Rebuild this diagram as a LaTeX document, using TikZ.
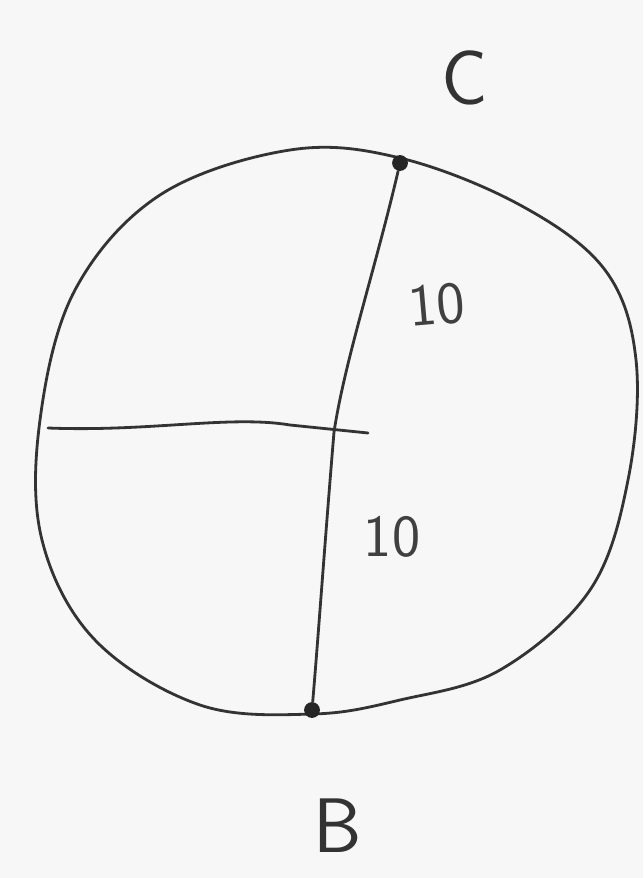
\documentclass[tikz,border=0pt]{standalone}
\usepackage{fontspec}
\setmainfont{DejaVu Sans}
\begin{document}
\begin{tikzpicture}[x=0.02cm,y=-0.02cm,
  pen/.style={draw=black!80, line width=1.6pt, line cap=round, line join=round},
  lbl/.style={text=black!80, inner sep=0pt, font=\fontsize{44}{48}\selectfont\sffamily},
  num/.style={text=black!75, inner sep=0pt, font=\fontsize{34}{36}\selectfont\sffamily},
  dotmark/.style={circle, fill=black!85, inner sep=0pt, minimum size=9pt}]
\fill[white!94!gray] (0,0) rectangle (643,878);
\useasboundingbox (0,0) rectangle (643,878);
% outline
\draw[pen] plot[smooth cycle, tension=0.6] coordinates {
  (400,158) (520,205) (605,270) (636,360) (628,480) (590,590) (500,670)
  (400,700) (313,714) (200,705) (95,640) (42,540) (40,420) (75,290)
  (160,195) (290,150)};
\node[dotmark] (C) at (400,163) {};
\node[dotmark] (B) at (312,710) {};
\coordinate (M) at (334,432);
\coordinate (L) at (48,428);
\coordinate (R) at (368,433);
\draw[pen] (C) .. controls (375,270) and (345,360) .. (M) .. controls (325,540) and (318,640) .. (B);
\draw[pen] (L) .. controls (150,432) and (230,415) .. (290,425) -- (R);
\node[lbl] (lC) at (465,78) {C};
\node[lbl] (lB) at (338,826) {B};
\node[num, rotate=5] (n1) at (437,305) {10};
\node[num] (n2) at (392,537) {10};
\end{tikzpicture}
\end{document}
